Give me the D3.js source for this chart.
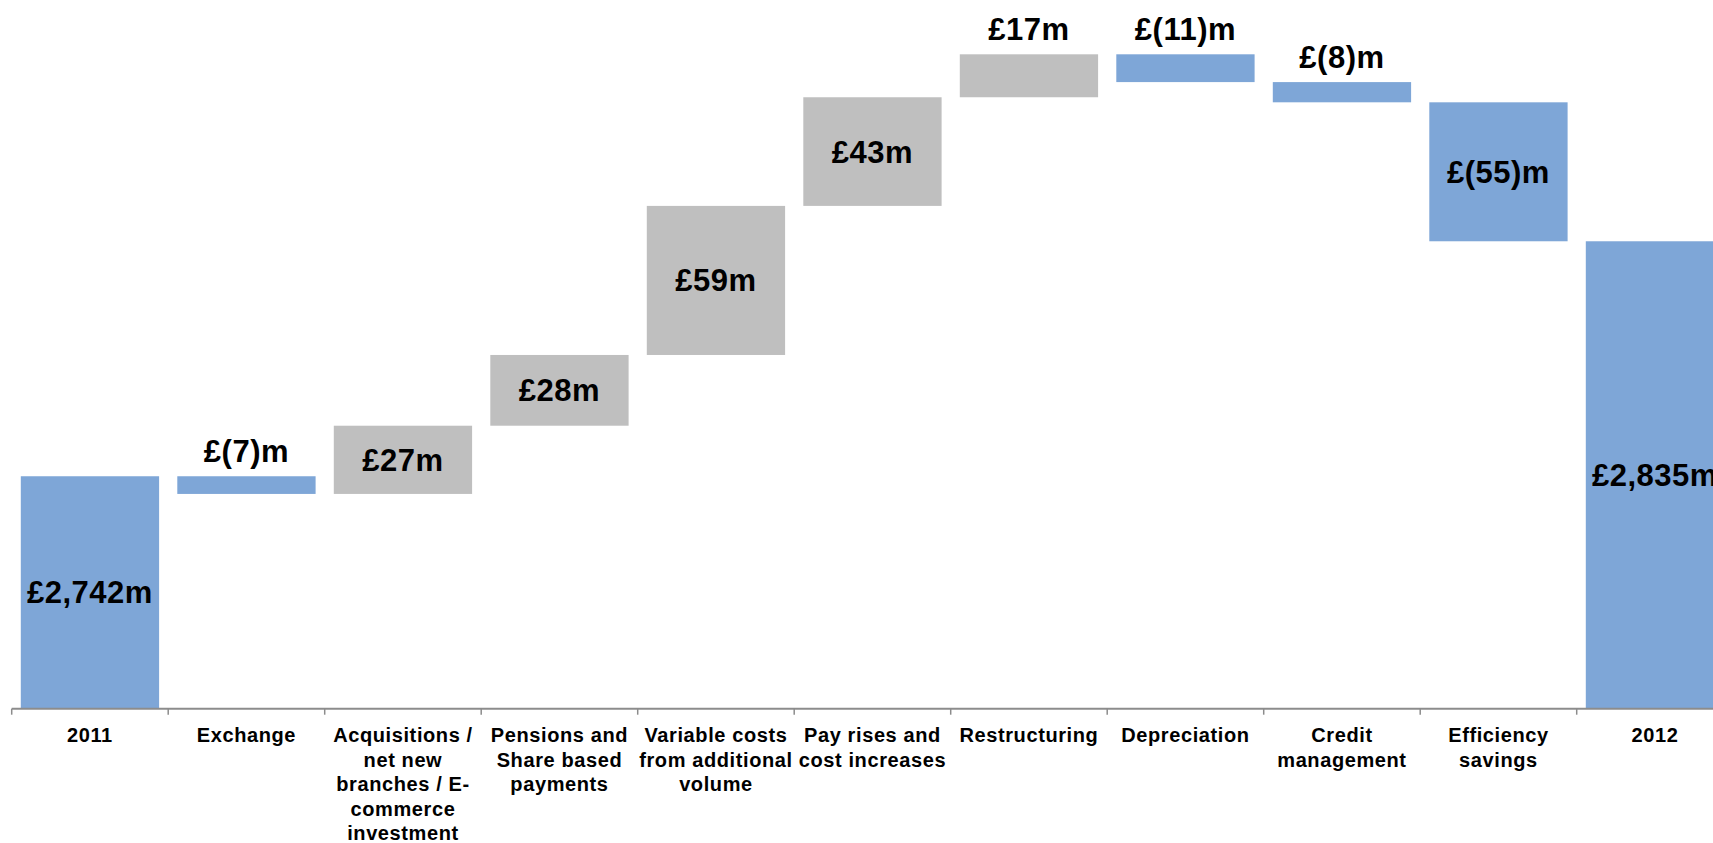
<!DOCTYPE html>
<html>
<head>
<meta charset="utf-8">
<script src="https://cdn.jsdelivr.net/npm/d3@7"></script>
<style>
    body { margin: 0; background: #fff; }
    text { font-family: "Liberation Sans", Arial, sans-serif; font-weight: bold; fill: #000; }
</style>
</head>
<body>
<div id="chart"></div>
<script>
// Categories (tick labels, one entry per line)
const categories = [
    ["2011"],
    ["Exchange"],
    ["Acquisitions /", "net new", "branches / E-", "commerce", "investment"],
    ["Pensions and", "Share based", "payments"],
    ["Variable costs", "from additional", "volume"],
    ["Pay rises and", "cost increases"],
    ["Restructuring"],
    ["Depreciation"],
    ["Credit", "management"],
    ["Efficiency", "savings"],
    ["2012"],
];

// Values in £m: totals for first/last, movements in between
const values = [2742, -7, 27, 28, 59, 43, 17, -11, -8, -55, 2835];
const isTotal = [true, false, false, false, false, false, false, false, false, false, true];

// Axis baseline value (axis does not start at zero)
const axisMin = 2650;

// Set dimensions
const width = 1713,
    height = 843;

const svg = d3
    .select("#chart")
    .append("svg")
    .attr("width", width)
    .attr("height", height);

// Build waterfall steps
let running = 0;
const steps = values.map((v, i) => {
    let start, end;
    if (isTotal[i]) {
        start = axisMin;
        end = v;
        running = v;
    } else {
        start = running;
        end = running + v;
        running = end;
    }
    return { i, v, total: isTotal[i], lo: Math.min(start, end), hi: Math.max(start, end) };
});

const maxTop = d3.max(steps, (d) => d.hi);

// Scales
const step = 156.5,
    x0 = 11.7;
const x = d3
    .scaleBand()
    .domain(d3.range(categories.length))
    .range([x0, x0 + step * categories.length])
    .padding(0);
const barW = 138.3;
const barOff = (x.bandwidth() - barW) / 2;

const y = d3.scaleLinear().domain([axisMin, maxTop]).range([708.7, 54.3]);

const blue = "#7ea6d7",
    grey = "#bfbfbf";

const fmt = d3.format(",");
const labelText = (d) =>
    d.v < 0 ? `£(${fmt(-d.v)})m` : `£${fmt(d.v)}m`;

// Draw bars
svg.selectAll("rect.bar")
    .data(steps)
    .enter()
    .append("rect")
    .attr("class", "bar")
    .attr("x", (d) => x(d.i) + barOff)
    .attr("width", barW)
    .attr("y", (d) => y(d.hi))
    .attr("height", (d) => y(d.lo) - y(d.hi))
    .style("fill", (d) => (d.total || d.v < 0 ? blue : grey));

// Value labels: inside for big bars, above for small ones
svg.selectAll("text.val")
    .data(steps)
    .enter()
    .append("text")
    .attr("class", "val")
    .attr("x", (d) => x(d.i) + x.bandwidth() / 2)
    .attr("y", (d) => {
        if (d.total || Math.abs(d.v) >= 20) return (y(d.lo) + y(d.hi)) / 2 + 11;
        return y(d.hi) - 14;
    })
    .attr("text-anchor", "middle")
    .style("font-size", "31px")
    .style("letter-spacing", "0.5px")
    .text(labelText);

// Axis line and ticks
const axisY = y(axisMin);
const axis = svg.append("g");
axis.append("line")
    .attr("x1", x0)
    .attr("x2", x0 + step * categories.length)
    .attr("y1", axisY)
    .attr("y2", axisY)
    .style("stroke", "#8c8c8c")
    .style("stroke-width", 2);

axis.selectAll("line.tick")
    .data(d3.range(categories.length + 1))
    .enter()
    .append("line")
    .attr("class", "tick")
    .attr("x1", (i) => x0 + i * step)
    .attr("x2", (i) => x0 + i * step)
    .attr("y1", axisY)
    .attr("y2", axisY + 6)
    .style("stroke", "#8c8c8c")
    .style("stroke-width", 1.5);

// Category labels
const lab = svg
    .selectAll("text.cat")
    .data(categories)
    .enter()
    .append("text")
    .attr("class", "cat")
    .attr("text-anchor", "middle")
    .attr("transform", (d, i) => `translate(${x(i) + x.bandwidth() / 2},742)`)
    .style("font-size", "20px")
    .style("letter-spacing", "0.6px");

lab.selectAll("tspan")
    .data((d) => d)
    .enter()
    .append("tspan")
    .attr("x", 0)
    .attr("y", (d, j) => j * 24.5)
    .text((d) => d);
</script>
</body>
</html>
